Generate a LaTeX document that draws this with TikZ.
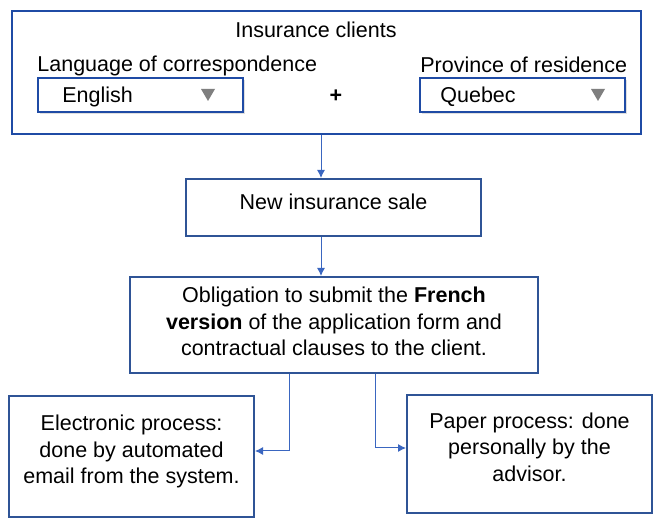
\documentclass[tikz,border=0pt]{standalone}
\usepackage{fontspec}
\setmainfont{Liberation Sans}
\usepackage{tikz}
\usetikzlibrary{arrows.meta,shadows}
\definecolor{insBlue}{HTML}{1F4BA5}
\definecolor{insSlate}{HTML}{2F5496}
\definecolor{insLine}{HTML}{3A66C0}
\definecolor{insGray}{HTML}{7F7F7F}

\begin{document}
\begin{tikzpicture}[x=0.5pt, y=-0.5pt,
  every node/.style={font=\fontsize{10.75}{13.25}\selectfont},
  box/.style={draw=insSlate, line width=1pt, align=center, inner sep=0pt},
  dropbox/.style={draw=insBlue, line width=1pt, fill=white, inner sep=0pt,
    minimum width=102.5pt, minimum height=17pt,
    drop shadow={opacity=0.25, shadow xshift=1pt, shadow yshift=-1pt}},
  flow/.style={draw=insLine, line width=0.5pt, -{Latex[length=4pt,width=4pt]}}]
  \useasboundingbox (0,0) rectangle (665,528);
  % top box with the two fields
  \node[draw=insBlue, line width=1.2pt, minimum width=314.5pt, minimum height=61.5pt] (clients) at (326.5,72.5) {};
  \node (title) at (316,30) {Insurance clients};
  \node[anchor=west, inner sep=0pt] (langlbl) at (37,66) {Language of correspondence};
  \node[anchor=west, inner sep=0pt] (provlbl) at (420,65) {Province of residence};
  \node[dropbox] (english) at (140.5,95) {};
  \node[dropbox] (quebec) at (522.5,95) {};
  \node[anchor=west, inner sep=0pt] (englishtxt) at (62,97) {English};
  \node[anchor=west, inner sep=0pt] (quebectxt) at (440,97) {Quebec};
  \fill[insGray] ([xshift=-18pt]english.east) ++(-7,-6) -- ++(14,0) -- ++(-7,12) -- cycle;
  \fill[insGray] ([xshift=-14pt]quebec.east) ++(-7,-6) -- ++(14,0) -- ++(-7,12) -- cycle;
  \node[font=\fontsize{10.75}{13.25}\selectfont\bfseries] (plus) at (336,96) {+};
  % flow boxes
  \node[box, minimum width=147.5pt, minimum height=28.5pt, text depth=6pt] (sale) at (333.5,207.5) {New insurance sale};
  \node[box, minimum width=204pt, minimum height=48pt, text depth=3.5pt] (duty) at (334,325)
    {Obligation to submit the \textbf{French}\\ \textbf{version} of the application form and\\ contractual clauses to the client.};
  \node[box, minimum width=122.5pt, minimum height=60.5pt, text depth=7pt] (email) at (131.5,456.5)
    {Electronic process:\\ done by automated\\ email from the system.};
  \node[box, minimum width=122.5pt, minimum height=59pt, text depth=7pt] (paper) at (529.5,454)
    {Paper process: done\\ personally by the\\ advisor.};
  % connectors
  \draw[flow] ([xshift=-6.25pt]sale.north |- clients.south) -- ([xshift=-6.25pt]sale.north);
  \draw[flow] ([xshift=-6.25pt]sale.south) -- ([xshift=-6.25pt]sale.south |- duty.north);
  \draw[flow] ([xshift=-22.5pt]duty.south) |- ([yshift=2.75pt]email.east);
  \draw[flow] ([xshift=20.5pt]duty.south) |- ([yshift=3pt]paper.west);
\end{tikzpicture}
\end{document}
